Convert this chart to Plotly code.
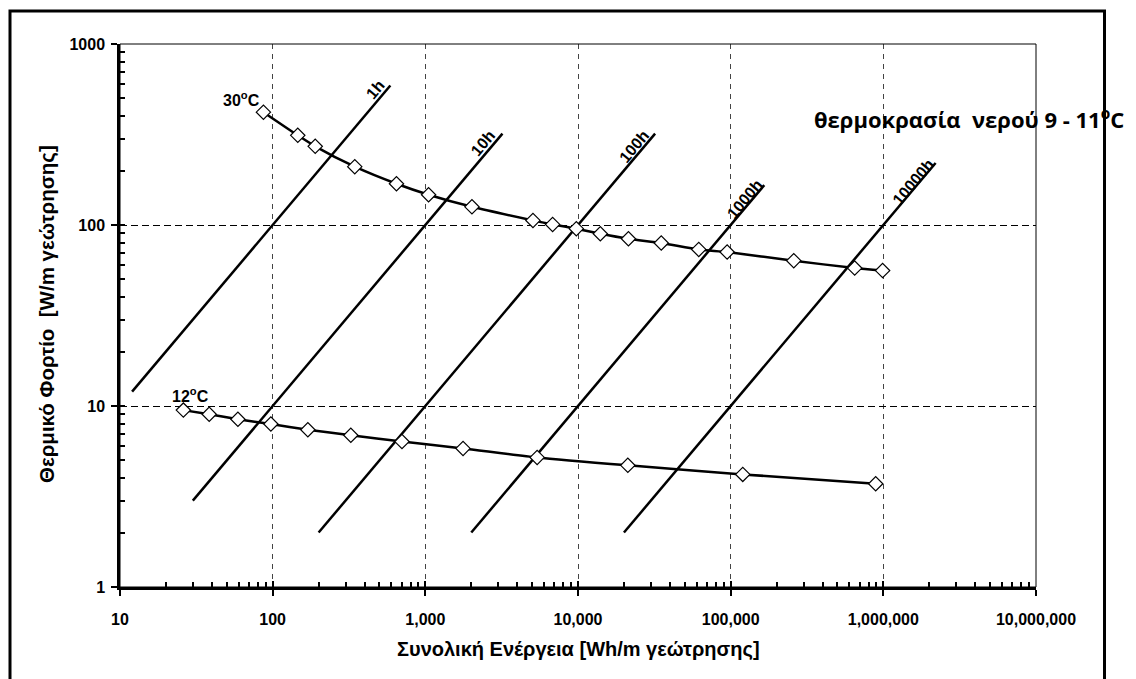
import numpy as np
import plotly.graph_objects as go

FONT = "Liberation Sans, Arial, sans-serif"

# ---- data ----
energy_30 = [87, 146, 190, 345, 647, 1050, 2020, 5070, 6820, 9750, 14000,
             21400, 35100, 61800, 94800, 259000, 649000, 989000]
load_30 = [420, 313, 272, 210, 169, 147, 126, 106, 100.7, 95.4, 89.5,
           84, 79.5, 73.3, 70.9, 63.5, 57.8, 56]

energy_12 = [26, 38.4, 59.2, 97.3, 170, 325, 703, 1766, 5400, 21200, 120000, 891000]
load_12 = [9.49, 9.0, 8.45, 7.95, 7.39, 6.89, 6.36, 5.83, 5.2, 4.70, 4.19, 3.72]

hour_labels = ["1h", "10h", "100h", "1000h", "10000h"]
hour_x0 = [12, 30, 200, 2000, 20000]
hour_y0 = [12, 3, 2, 2, 2]
hour_x1 = [590, 3200, 32000, 166000, 2200000]
hour_y1 = [590, 320, 320, 166, 220]

x_tickvals = [10, 100, 1000, 10000, 100000, 1000000, 10000000]
x_ticktext = ["10", "100", "1,000", "10,000", "100,000", "1,000,000", "10,000,000"]
y_tickvals = [1, 10, 100, 1000]
y_ticktext = ["1", "10", "100", "1000"]

x_minor = [k * 10 ** d for d in range(1, 7) for k in range(2, 10)]
y_minor = [k * 10 ** d for d in range(0, 3) for k in range(2, 10)]

# label pixel offsets (style)
hour_label_shift = [(-15, -4), (-19, -9), (-21, -13), (-20, -14), (-23, -19)]

fig = go.Figure()

for x0, y0, x1, y1 in zip(hour_x0, hour_y0, hour_x1, hour_y1):
    fig.add_trace(go.Scatter(x=[x0, x1], y=[y0, y1], mode="lines",
                             line=dict(color="black", width=2.5),
                             showlegend=False, hoverinfo="skip"))

for ex, ld in ((energy_30, load_30), (energy_12, load_12)):
    fig.add_trace(go.Scatter(x=ex, y=ld, mode="lines+markers",
                             line=dict(color="black", width=2.5, shape="spline", smoothing=0.6),
                             marker=dict(symbol="diamond", size=11, color="white",
                                         line=dict(color="black", width=1.2)),
                             showlegend=False))

# empty trace for overlay axes (extra tick parts)
fig.add_trace(go.Scatter(x=[], y=[], xaxis="x2", yaxis="y2", showlegend=False))

tickfont = dict(family=FONT, size=16, color="black", weight="bold")

fig.update_layout(
    width=1136, height=679,
    margin=dict(l=120, r=100, t=44, b=92),
    paper_bgcolor="white", plot_bgcolor="white",
    font=dict(family=FONT, color="black"),
    xaxis=dict(type="log", range=[1, 7], tickmode="array", tickvals=x_tickvals,
               ticktext=x_ticktext, tickfont=tickfont, ticks="outside", ticklen=6,
               tickwidth=2, tickcolor="black", ticklabelstandoff=10,
               showline=True, linewidth=2.5, linecolor="black", mirror=False,
               showgrid=True, gridcolor="#444444", gridwidth=1, griddash="5px,5px",
               minor=dict(tickmode="array", tickvals=x_minor, ticks="inside", ticklen=5,
                          tickwidth=1.5, tickcolor="black", showgrid=False),
               zeroline=False),
    yaxis=dict(type="log", range=[0, 3], tickmode="array", tickvals=y_tickvals,
               ticktext=y_ticktext, tickfont=tickfont, ticks="outside", ticklen=6,
               tickwidth=2, tickcolor="black", ticklabelstandoff=3,
               showline=True, linewidth=2.5, linecolor="black", mirror=False,
               showgrid=True, gridcolor="black", gridwidth=1, griddash="7px,4px",
               minor=dict(tickmode="array", tickvals=y_minor, ticks="inside", ticklen=5,
                          tickwidth=1.5, tickcolor="black", showgrid=False),
               zeroline=False),
    xaxis2=dict(type="log", range=[1, 7], overlaying="x", anchor="y", side="bottom",
                tickmode="array", tickvals=x_tickvals, ticks="inside", ticklen=6,
                tickwidth=2, tickcolor="black", showticklabels=False, showgrid=False,
                showline=False, zeroline=False),
    yaxis2=dict(type="log", range=[0, 3], overlaying="y", anchor="x", side="left",
                tickmode="array", tickvals=y_tickvals, ticks="inside", ticklen=5,
                tickwidth=2, tickcolor="black", showticklabels=False, showgrid=False,
                showline=False, zeroline=False),
)

# thin plot border (top/right)
fig.add_shape(type="rect", xref="paper", yref="paper", x0=0, x1=1, y0=0, y1=1,
              line=dict(color="black", width=1), layer="above")
# outer frame
fig.add_shape(type="rect", xref="paper", yref="paper",
              x0=(10 - 120) / 916, x1=(1104.5 - 120) / 916,
              y0=(587 - 720) / 543, y1=(587 - 11) / 543,
              line=dict(color="black", width=3), layer="above")

# hour labels
for lab, x1, y1, (dx, dy) in zip(hour_labels, hour_x1, hour_y1, hour_label_shift):
    fig.add_annotation(x=np.log10(x1), y=np.log10(y1), xref="x", yref="y", text=lab,
                       showarrow=False, textangle=-50, xshift=dx, yshift=dy,
                       font=dict(family=FONT, size=16, color="black", weight="bold"))

# series labels
fig.add_annotation(x=np.log10(energy_30[0]), y=np.log10(load_30[0]), xref="x", yref="y",
                   text="30<sup>o</sup>C", showarrow=False, xanchor="right", yanchor="bottom",
                   xshift=-1, yshift=1,
                   font=dict(family=FONT, size=16, color="black", weight="bold"))
fig.add_annotation(x=np.log10(energy_12[0]), y=np.log10(load_12[0]), xref="x", yref="y",
                   text="12<sup>o</sup>C", showarrow=False, xanchor="center", yanchor="bottom",
                   xshift=7, yshift=3,
                   font=dict(family=FONT, size=16, color="black", weight="bold"))

# water temperature note
fig.add_annotation(x=(812 - 120) / 916, y=(587 - 119) / 543, xref="paper", yref="paper",
                   text="θερμοκρασία  νερού 9 - 11<sup>o</sup>C", showarrow=False,
                   xanchor="left", yanchor="middle",
                   font=dict(family="Open Sans, Noto Sans, sans-serif", size=22,
                             color="black", weight="bold"))

# axis titles
fig.add_annotation(x=0.5, y=(587 - 649) / 543, xref="paper", yref="paper",
                   text="Συνολική Ενέργεια [Wh/m γεώτρησης]", showarrow=False,
                   xanchor="center", yanchor="middle",
                   font=dict(family=FONT, size=20, color="black", weight="bold"))
fig.add_annotation(x=(47 - 120) / 916, y=(587 - 314) / 543, xref="paper", yref="paper",
                   text="Θερμικό Φορτίο  [W/m γεώτρησης]", showarrow=False, textangle=-90,
                   xanchor="center", yanchor="middle",
                   font=dict(family=FONT, size=20.5, color="black", weight="bold"))

fig.write_html("out.html")
